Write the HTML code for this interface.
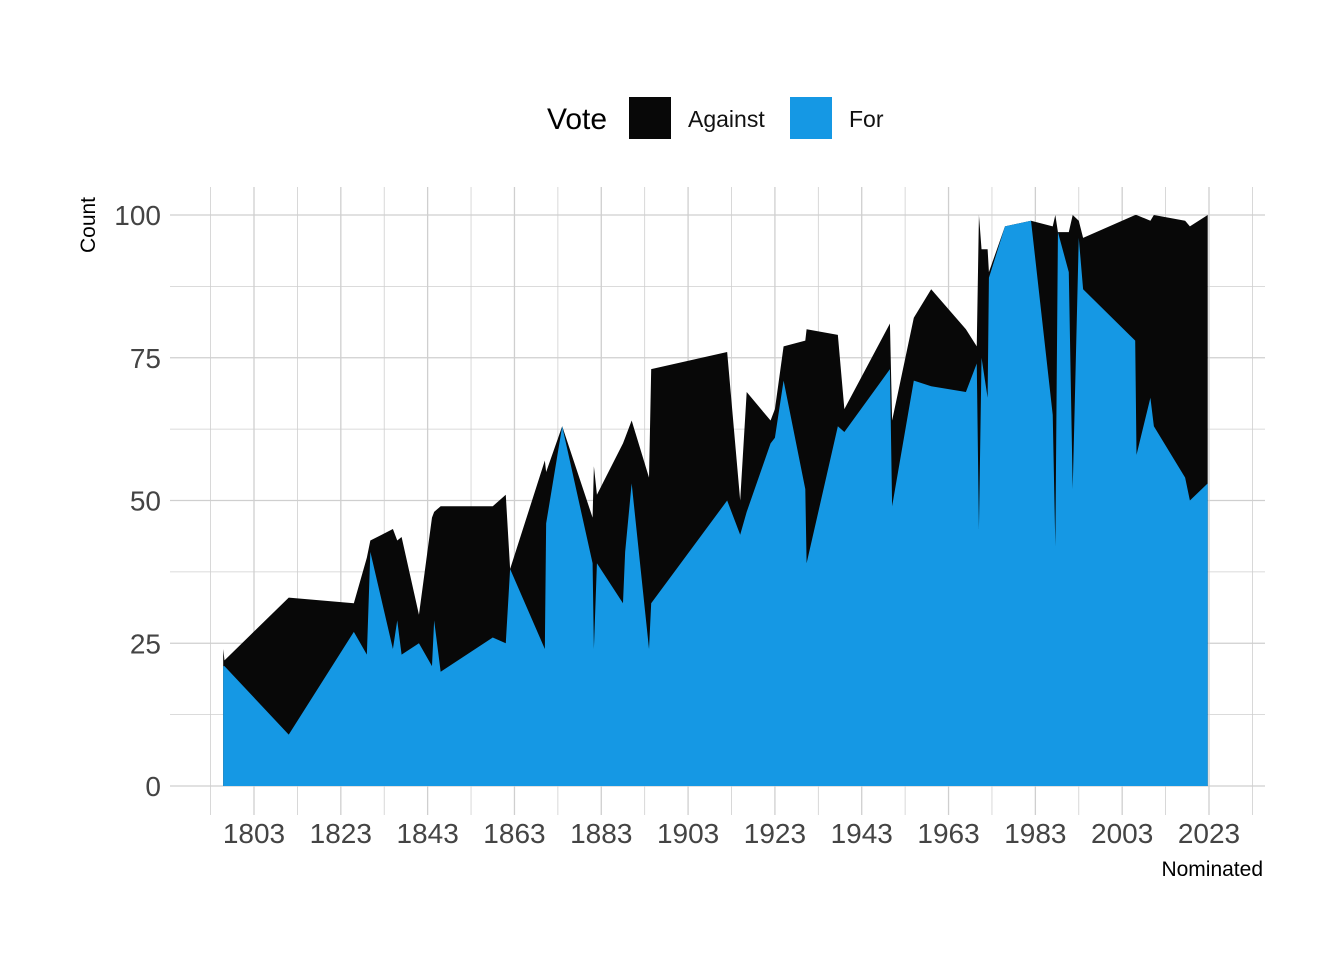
<!DOCTYPE html>
<html><head><meta charset="utf-8"><style>
body{margin:0;background:#fff;}
svg{display:block;font-family:"Liberation Sans","DejaVu Sans",sans-serif;}
</style></head><body>
<svg id="chart" width="1344" height="960" viewBox="0 0 1344 960">
<g id="grid"></g>
<g id="areas"></g>
<g id="axes"></g>
<text x="88" y="218" transform="rotate(-90 95 218)" font-size="21" fill="#000" text-anchor="middle">Count</text>
<text x="1263" y="876" font-size="21" fill="#000" text-anchor="end">Nominated</text>
<g>
<text x="547" y="129" font-size="30" fill="#000">Vote</text>
<rect x="629" y="97" width="42" height="42" fill="#080808"/>
<text x="688" y="127" font-size="23" fill="#111">Against</text>
<rect x="790" y="97" width="42" height="42" fill="#1598E4"/>
<text x="849" y="127" font-size="23" fill="#111">For</text>
</g>
</svg>
<script>
const years = [1795.9,1796.2,1811,1826,1829,1829.8,1835,1836,1837,1841,1844,1844.5,1846,1858,1861,1862,1870,1870.3,1874,1881,1881.3,1882,1888,1888.5,1890,1894,1894.5,1912,1915,1916.5,1922,1923,1925,1930,1930.3,1937.5,1939,1949.5,1950,1955,1959,1967,1969.5,1970,1970.6,1972,1972.3,1976,1982,1987,1987.6,1988.2,1990.7,1991.6,1993,1994,2006,2006.3,2009.5,2010.3,2017.5,2018.6,2022.7];
const forVotes = [21,21,9,27,23,41,24,29,23,25,21,29,20,26,25,38,24,46,63,39,24,39,32,41,53,24,32,50,44,48,60,61,71,52,39,63,62,73,49,71,70,69,74,45,75,68,89,98,99,65,42,97,90,52,96,87,78,58,68,63,54,50,53];
const totalVotes = [24,22,33,32,40,43,45,43,43.6,30,47,48,49,49,51,38,57,55,63,47,56,51,60,61,64,54,73,76,50,69,64,66,77,78,80,79,66,81,64,82,87,80,77,100,94,94,90,98,99,98,100,97,97,100,99,96,100,100,99,100,99,98,100];
const yTicks = [0,25,50,75,100];
const xTicks = [1803,1823,1843,1863,1883,1903,1923,1943,1963,1983,2003,2023];

const NS="http://www.w3.org/2000/svg";
const X = yr => 254 + (yr-1803)*(955/220);
const Y = v => 786 - v*5.71;
const L=170, R=1265, T=187, B=815;
const grid=document.getElementById('grid'), areas=document.getElementById('areas'), axes=document.getElementById('axes');
function mk(tag, attrs, parent){const e=document.createElementNS(NS,tag);for(const k in attrs)e.setAttribute(k,attrs[k]);parent.appendChild(e);return e;}
for(let v=0; v<=100; v+=12.5){
  const ln=mk('line',{x1:L,x2:R,y1:Y(v),y2:Y(v),stroke:'#cfcfcf','stroke-width':v%25===0?1.3:0.8},grid);
  
  
}
for(let yr=1793; yr<=2033; yr+=10){
  const major=xTicks.includes(yr);
  const ln=mk('line',{x1:X(yr),x2:X(yr),y1:T,y2:B,stroke:'#cfcfcf','stroke-width':major?1.3:0.8},grid);
  
  
}
function poly(vals){
  let d='M'+X(years[0])+','+Y(0);
  years.forEach((yr,i)=>{d+=' L'+X(yr).toFixed(2)+','+Y(vals[i]).toFixed(2);});
  d+=' L'+X(years[years.length-1])+','+Y(0)+' Z';
  return d;
}
const ag=mk('path',{d:poly(totalVotes),fill:'#080808'},areas);


const fg=mk('path',{d:poly(forVotes),fill:'#1598E4'},areas);


yTicks.forEach(v=>{
  const t=mk('text',{x:161,y:Y(v)+10,'font-size':28,fill:'#444','text-anchor':'end'},axes);
  t.textContent=v;
  
  
});
xTicks.forEach(yr=>{
  const t=mk('text',{x:X(yr),y:843,'font-size':28,fill:'#444','text-anchor':'middle'},axes);
  t.textContent=yr;
  
  
});
</script>
</body></html>
